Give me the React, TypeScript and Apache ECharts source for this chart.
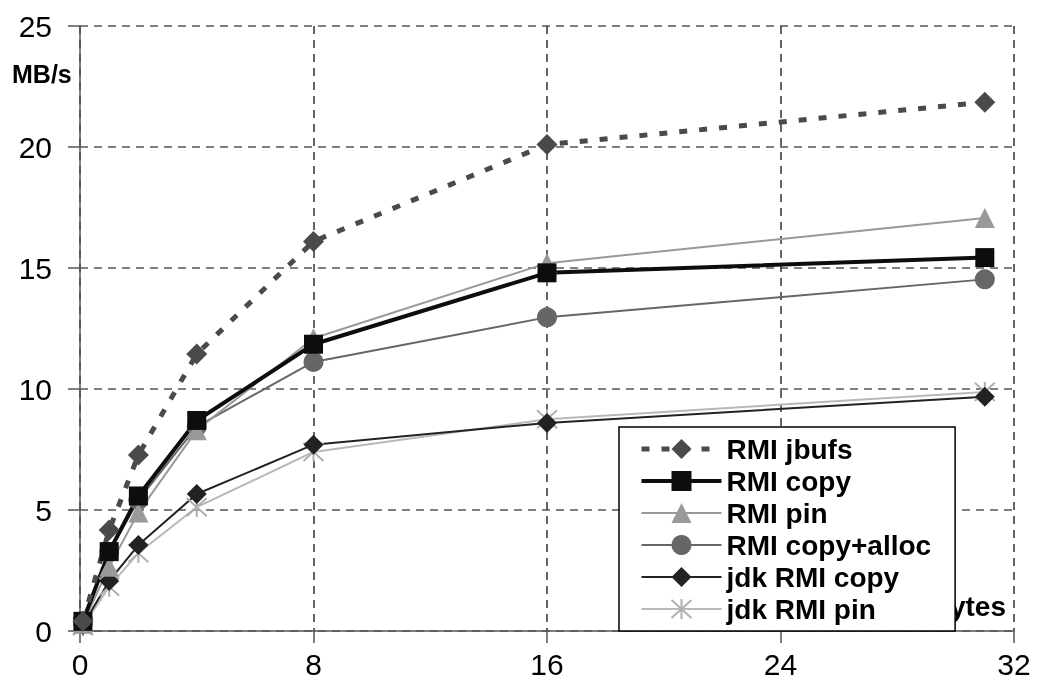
import React, { useEffect, useRef } from "react";
import * as echarts from "echarts";

const xValues = [0.1, 1, 2, 4, 8, 16, 31];
const jbufs = [0.4, 4.17, 7.27, 11.45, 16.1, 20.1, 21.85];
const rmiCopy = [0.4, 3.28, 5.58, 8.7, 11.85, 14.8, 15.43];
const rmiPin = [0.3, 2.66, 4.9, 8.3, 12.1, 15.2, 17.07];
const copyAlloc = [0.4, 3.26, 5.41, 8.45, 11.12, 12.96, 14.53];
const jdkCopy = [0.25, 2.07, 3.55, 5.66, 7.7, 8.6, 9.68];
const jdkPin = [0.2, 1.83, 3.22, 5.12, 7.4, 8.75, 9.88];
const yTicks = [0, 5, 10, 15, 20, 25];
const xTicks = [0, 8, 16, 24, 32];

const FONT = "'Liberation Sans', Arial, sans-serif";
const STAR = "path://M0,0L20,20M20,0L0,20M10,-1L10,21";

const pairs = (ys: number[]) => xValues.map((x, i) => [x, ys[i]]);

export default function App() {
  const ref = useRef<HTMLDivElement>(null);
  useEffect(() => {
    if (!ref.current) return;
    const chart = echarts.init(ref.current, null, { renderer: "svg" });
    const mk = (
      name: string,
      data: number[],
      color: string,
      width: number,
      symbol: string,
      size: number,
      extra: any = {}
    ) => ({
      name,
      type: "line",
      data: pairs(data),
      symbol,
      symbolSize: size,
      showAllSymbol: true,
      lineStyle: { color, width, type: "solid", ...(extra.lineStyle || {}) },
      itemStyle: { color, ...(extra.itemStyle || {}) },
      emphasis: { disabled: true },
      z: extra.z || 2,
    });
    chart.setOption({
      animation: false,
      grid: { left: 80, right: 23, top: 26, bottom: 67 },
      xAxis: {
        type: "value",
        min: 0,
        max: 32,
        interval: 8,
        axisLine: { show: true, lineStyle: { color: "#555", width: 1.5 } },
        axisTick: { show: true, length: 12, lineStyle: { color: "#555", width: 1.5 } },
        axisLabel: {
          margin: 18,
          fontSize: 30,
          color: "#000",
          fontFamily: FONT,
          formatter: (v: number) => (xTicks.includes(v) ? String(v) : ""),
        },
        splitLine: { show: true, lineStyle: { color: "#333", width: 1.5, type: [8, 6] } },
      },
      yAxis: {
        type: "value",
        min: 0,
        max: 25,
        interval: 5,
        axisLine: { show: true, lineStyle: { color: "#555", width: 1.5 } },
        axisTick: { show: true, length: 12, lineStyle: { color: "#555", width: 1.5 } },
        axisLabel: {
          margin: 28,
          fontSize: 30,
          color: "#000",
          fontFamily: FONT,
          formatter: (v: number) => (yTicks.includes(v) ? String(v) : ""),
        },
        splitLine: { show: true, lineStyle: { color: "#555", width: 1.5, type: [8, 6] } },
      },
      legend: {
        orient: "vertical",
        left: 619,
        top: 427,
        backgroundColor: "#fff",
        borderColor: "#000",
        borderWidth: 1.5,
        borderRadius: 0,
        padding: [6, 24, 6, 20],
        itemWidth: 80,
        itemHeight: 25,
        itemGap: 0,
        z: 10,
        selectedMode: false,
        textStyle: {
          fontFamily: FONT,
          fontWeight: "bold",
          fontSize: 28,
          color: "#000",
          lineHeight: 32,
        },
        data: [
          { name: "RMI jbufs", lineStyle: { width: 5 } },
          { name: "RMI copy", lineStyle: { width: 4 } },
          "RMI pin",
          "RMI copy+alloc",
          "jdk RMI copy",
          "jdk RMI pin",
        ],
      },
      graphic: [
        {
          type: "text",
          left: 12,
          top: 61,
          z: 1,
          style: { text: "MB/s", font: `bold 25px ${FONT}`, fill: "#000" },
        },
        {
          type: "text",
          right: 31,
          top: 592,
          z: 1,
          style: { text: "KBytes", font: `bold 28px ${FONT}`, fill: "#000" },
        },
      ],
      series: [
        mk("jdk RMI pin", jdkPin, "#b8b8b8", 2, STAR, 20, {
          itemStyle: { color: "none", borderColor: "#b0b0b0", borderWidth: 2 },
        }),
        mk("jdk RMI copy", jdkCopy, "#222", 2, "diamond", 20),
        mk("RMI copy+alloc", copyAlloc, "#666", 2, "circle", 20),
        mk("RMI pin", rmiPin, "#999", 2, "triangle", 20),
        mk("RMI copy", rmiCopy, "#0d0d0d", 4, "rect", 19),
        mk("RMI jbufs", jbufs, "#4a4a4a", 5, "diamond", 21, {
          lineStyle: { type: [8, 12] },
        }),
      ],
    });
    return () => chart.dispose();
  }, []);
  return (
    <div
      ref={ref}
      style={{ position: "fixed", left: 0, top: 0, width: 1037, height: 698 }}
    />
  );
}
